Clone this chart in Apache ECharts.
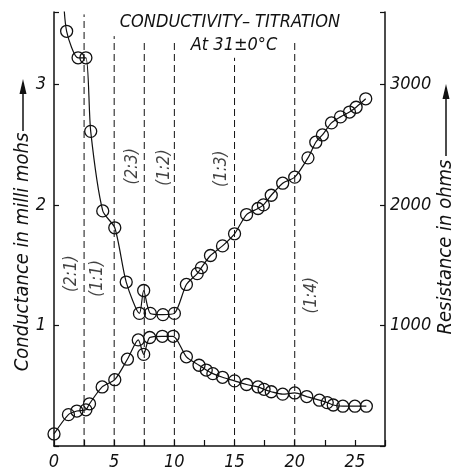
<!DOCTYPE html>
<html>
<head>
<meta charset="utf-8">
<script src="https://cdn.jsdelivr.net/npm/echarts@6/dist/echarts.min.js"></script>
<style>html,body{margin:0;padding:0;background:#fff}#c{width:454px;height:475px}</style>
</head>
<body>
<div id="c"></div>
<script>
// ---- data ----
var condX = [0, 1.2, 1.9, 2.65, 2.95, 4.0, 5.05, 6.1, 7.0, 7.45, 7.95, 9.0, 9.9, 11.0, 12.05, 12.65, 13.2, 14.0, 15.0, 16.0, 16.95, 17.45, 18.05, 19.0, 20.0, 21.0, 22.05, 22.7, 23.2, 24.0, 25.0, 25.95];
var condY = [0.1, 0.26, 0.29, 0.30, 0.35, 0.49, 0.55, 0.72, 0.88, 0.76, 0.90, 0.91, 0.91, 0.74, 0.67, 0.63, 0.60, 0.57, 0.54, 0.51, 0.49, 0.47, 0.45, 0.43, 0.44, 0.41, 0.38, 0.36, 0.34, 0.33, 0.33, 0.33];
// first resistance value lies above the frame (curve enters from the top)
var resX = [0.75, 1.05, 2.0, 2.65, 3.05, 4.05, 5.05, 6.0, 7.1, 7.45, 8.0, 9.05, 10.0, 11.0, 11.9, 12.25, 13.0, 14.0, 15.0, 16.0, 16.95, 17.4, 18.05, 19.0, 20.0, 21.1, 21.75, 22.3, 23.05, 23.8, 24.55, 25.1, 25.9];
var resY = [3800, 3440, 3220, 3220, 2610, 1950, 1810, 1360, 1100, 1290, 1100, 1090, 1100, 1340, 1430, 1480, 1580, 1660, 1760, 1920, 1970, 2000, 2080, 2180, 2230, 2390, 2520, 2580, 2680, 2730, 2770, 2810, 2880];
var guideX = [2.5, 5, 7.5, 10, 15, 20];
var guideTop = [3.58, 3.4, 3.36, 3.35, 3.22, 3.35];
var ratioText = ['(2:1)', '(1:1)', '(2:3)', '(1:2)', '(1:3)', '(1:4)'];
var ratioX = [1.5, 3.65, 6.55, 9.2, 13.9, 21.4];
var ratioY = [1.43, 1.39, 2.32, 2.31, 2.3, 1.25];
var xTicks = [0, 5, 10, 15, 20, 25];
var condTicks = [1, 2, 3];
var resTicks = [1000, 2000, 3000];
var titleLines = ['CONDUCTIVITY\u2013 TITRATION', 'At 31\u00b10\u00b0C'];
var leftName = 'Conductance in milli mohs';
var rightName = 'Resistance in ohms';

var FONT = '"DejaVu Sans Condensed", "DejaVu Sans", sans-serif';
var chart = echarts.init(document.getElementById('c'), null, {renderer: 'canvas'});

var series = [];
guideX.forEach(function (x, i) {
  series.push({
    type: 'line', xAxisIndex: 0, yAxisIndex: 0, silent: true,
    data: [[x, 0], [x, guideTop[i]]], symbol: 'none',
    lineStyle: {color: '#111', width: 1, type: [7, 4]}, z: 1
  });
});
series.push({
  type: 'scatter', yAxisIndex: 0, symbolSize: 0, silent: true,
  data: ratioText.map(function (t, i) { return {name: t, value: [ratioX[i], ratioY[i]]}; }),
  label: {show: true, position: 'inside', rotate: 90, formatter: '{b}', color: '#111',
    fontFamily: FONT, fontStyle: 'italic', fontSize: 17, align: 'center', verticalAlign: 'middle'}
});
var symStyle = {color: 'rgba(255,255,255,0)', borderColor: '#111', borderWidth: 1.3};
series.push({
  type: 'line', yAxisIndex: 0, smooth: 0.25, symbol: 'circle', symbolSize: 12,
  data: condX.map(function (x, i) { return [x, condY[i]]; }),
  lineStyle: {color: '#111', width: 1.2}, itemStyle: symStyle, z: 3
});
series.push({
  type: 'line', yAxisIndex: 1, smooth: 0.25, symbol: 'circle', symbolSize: 12,
  data: resX.map(function (x, i) {
    var d = {value: [x, resY[i]]};
    if (resY[i] > 3600) d.symbol = 'none';
    return d;
  }),
  lineStyle: {color: '#111', width: 1.2}, itemStyle: symStyle, z: 3
});

var labelStyle = {color: '#111', fontFamily: FONT, fontStyle: 'italic', fontSize: 18};
chart.setOption({
  animation: false,
  grid: {left: 54, right: 69, top: 12, bottom: 29, containLabel: false},
  xAxis: {
    type: 'value', min: 0, max: 27.5, interval: 2.5,
    axisLine: {show: true, onZero: false, lineStyle: {color: '#111', width: 1.5}},
    axisTick: {show: true, inside: true, length: 6, lineStyle: {color: '#111', width: 1.2}},
    axisLabel: Object.assign({margin: 7, formatter: function (v) { return xTicks.indexOf(v) >= 0 ? String(v) : ''; }}, labelStyle),
    splitLine: {show: false}
  },
  yAxis: [{
    type: 'value', min: 0, max: 3.6, interval: 1,
    axisLine: {show: true, lineStyle: {color: '#111', width: 1.5}},
    axisTick: {show: true, inside: true, length: 5, lineStyle: {color: '#111', width: 1.2}},
    axisLabel: Object.assign({margin: 8, formatter: function (v) { return condTicks.indexOf(v) >= 0 ? String(v) : ''; }}, labelStyle),
    splitLine: {show: false}
  }, {
    type: 'value', min: 0, max: 3600, interval: 1000, position: 'right',
    axisLine: {show: true, lineStyle: {color: '#111', width: 1.5}},
    axisTick: {show: true, inside: true, length: 5, lineStyle: {color: '#111', width: 1.2}},
    axisLabel: Object.assign({margin: 5, formatter: function (v) { return resTicks.indexOf(v) >= 0 ? String(v) : ''; }}, labelStyle),
    splitLine: {show: false}
  }],
  graphic: [
    {type: 'text', x: 230, y: 22, style: {text: titleLines[0], fill: '#111', font: 'italic 18px ' + FONT, textAlign: 'center', textVerticalAlign: 'middle'}},
    {type: 'text', x: 234, y: 45, style: {text: titleLines[1], fill: '#111', font: 'italic 18px ' + FONT, textAlign: 'center', textVerticalAlign: 'middle'}},
    {type: 'text', x: 23, y: 252, rotation: Math.PI / 2, style: {text: leftName, fill: '#111', font: 'italic 20px ' + FONT, textAlign: 'center', textVerticalAlign: 'middle'}},
    {type: 'line', shape: {x1: 23, y1: 131, x2: 23, y2: 92}, style: {stroke: '#111', lineWidth: 1.5}},
    {type: 'polygon', shape: {points: [[23, 79], [19.5, 94], [26.5, 94]]}, style: {fill: '#111'}},
    {type: 'text', x: 446, y: 247, rotation: Math.PI / 2, style: {text: rightName, fill: '#111', font: 'italic 20px ' + FONT, textAlign: 'center', textVerticalAlign: 'middle'}},
    {type: 'line', shape: {x1: 446, y1: 156, x2: 446, y2: 98}, style: {stroke: '#111', lineWidth: 1.5}},
    {type: 'polygon', shape: {points: [[446, 84], [442.5, 99], [449.5, 99]]}, style: {fill: '#111'}}
  ],
  series: series
});
</script>
</body>
</html>
